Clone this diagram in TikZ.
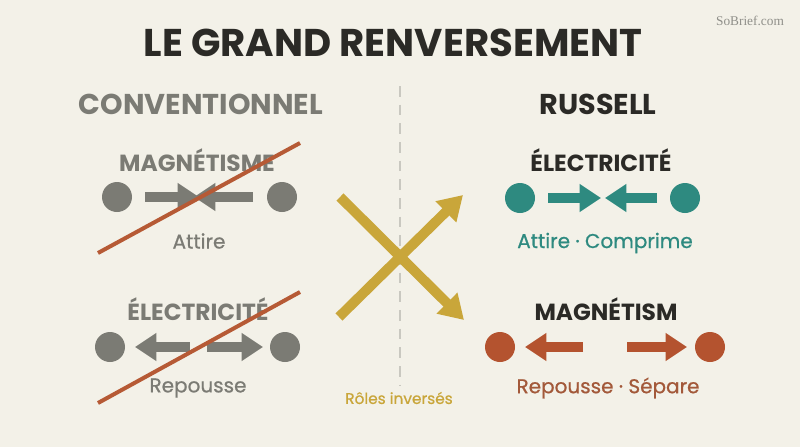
\documentclass[tikz,border=0pt]{standalone}
\usepackage{fontspec}
\setmainfont{Poppins}
\newfontfamily\brandfont{Liberation Serif}
\newfontfamily\effectfont[FakeBold=0.7]{Poppins}
\usetikzlibrary{arrows.meta, positioning}

\definecolor{paper}{HTML}{F3F1E8}
\definecolor{ink}{HTML}{2B2A26}
\definecolor{oldgray}{HTML}{7B7B74}
\definecolor{teal}{HTML}{2E8A80}
\definecolor{rust}{HTML}{B4532F}
\definecolor{rusttext}{HTML}{A3593A}
\definecolor{gold}{HTML}{C9A63A}
\definecolor{strike}{HTML}{B65A35}
\definecolor{divider}{HTML}{C9C8C0}

\begin{document}
\begin{tikzpicture}[x=0.75pt, y=-0.75pt,
    title/.style={font=\bfseries\fontsize{29}{29}\selectfont, text=ink, inner sep=0pt},
    colhead/.style={font=\bfseries\fontsize{21.5}{21.5}\selectfont, text=#1, inner sep=0pt},
    force/.style={font=\bfseries\fontsize{17.5}{17.5}\selectfont, text=#1, inner sep=0pt},
    effect/.style={font=\effectfont\fontsize{15}{15}\selectfont, text=#1, inner sep=0pt},
    dot/.style={circle, fill=#1, minimum size=22.5pt, inner sep=0pt},
    push/.style={draw=#1, line width=7.5pt, -{Triangle[width=20pt, length=16pt]}},
    swap/.style={draw=gold, line width=7.5pt, -{Triangle[width=21pt, length=18pt]}},
    crossout/.style={draw=strike, line width=3pt}]

    \useasboundingbox[fill=paper] (0,0) rectangle (800,447);

    \node[title] (title) at (393,43) {LE GRAND RENVERSEMENT};
    \node[font=\brandfont\fontsize{10}{10}\selectfont, text=oldgray!85, inner sep=0pt] (brand) at (750,21) {SoBrief.com};

    \node[colhead=oldgray] (conv) at (201,104) {CONVENTIONNEL};
    \node[colhead=ink] (russ) at (598,104) {RUSSELL};

    \coordinate (divtop) at (400,86);
    \coordinate (divbot) at (400,385);
    \draw[divider, line width=1.5pt, dash pattern=on 8pt off 6pt] (divtop) -- (divbot);

    % conventionnel
    \node[force=oldgray] (cmag) at (197,160) {MAGNÉTISME};
    \node[dot=oldgray] (cmagL) at (117,197) {};
    \node[dot=oldgray] (cmagR) at (282,197) {};
    \coordinate (cmagA1) at (145,197);
    \coordinate (cmagA2) at (199,197);
    \coordinate (cmagB1) at (253,197);
    \coordinate (cmagB2) at (194,197);
    \draw[push=oldgray] (cmagA1) -- (cmagA2);
    \draw[push=oldgray] (cmagB1) -- (cmagB2);
    \node[effect=oldgray] (cmagfx) at (199,241) {Attire};
    \coordinate (cmagX1) at (98,253);
    \coordinate (cmagX2) at (300,143);
    \draw[crossout] (cmagX1) -- (cmagX2);

    \node[force=oldgray] (celec) at (198,309) {ÉLECTRICITÉ};
    \node[dot=oldgray] (celecL) at (110,347) {};
    \node[dot=oldgray] (celecR) at (285,347) {};
    \coordinate (celecA1) at (190,347);
    \coordinate (celecA2) at (135,347);
    \coordinate (celecB1) at (207,347);
    \coordinate (celecB2) at (263,347);
    \draw[push=oldgray] (celecA1) -- (celecA2);
    \draw[push=oldgray] (celecB1) -- (celecB2);
    \node[effect=oldgray] (celecfx) at (198,388) {Repousse};
    \coordinate (celecX1) at (98,403);
    \coordinate (celecX2) at (300,292);
    \draw[crossout] (celecX1) -- (celecX2);

    % renversement
    \coordinate (swapA1) at (339,317);
    \coordinate (swapA2) at (463,195);
    \coordinate (swapB1) at (340,197);
    \coordinate (swapB2) at (464,320);
    \draw[swap] (swapB1) -- (swapB2);
    \draw[swap] (swapA1) -- (swapA2);
    \node[effect=gold, font=\effectfont\fontsize{11.5}{11.5}\selectfont] (swapfx) at (399,398) {Rôles inversés};

    % russell
    \node[force=ink] (relec) at (601,160) {ÉLECTRICITÉ};
    \node[dot=teal] (relecL) at (520,198) {};
    \node[dot=teal] (relecR) at (685,198) {};
    \coordinate (relecA1) at (548,198);
    \coordinate (relecA2) at (601,198);
    \coordinate (relecB1) at (657,198);
    \coordinate (relecB2) at (605,198);
    \draw[push=teal] (relecA1) -- (relecA2);
    \draw[push=teal] (relecB1) -- (relecB2);
    \node[effect=teal] (relecfx) at (605,243) {Attire · Comprime};

    \node[force=ink] (rmag) at (606,309) {MAGNÉTISM};
    \node[dot=rust] (rmagL) at (500,347) {};
    \node[dot=rust] (rmagR) at (710,347) {};
    \coordinate (rmagA1) at (583,347);
    \coordinate (rmagA2) at (525,347);
    \coordinate (rmagB1) at (627,347);
    \coordinate (rmagB2) at (687,347);
    \draw[push=rust] (rmagA1) -- (rmagA2);
    \draw[push=rust] (rmagB1) -- (rmagB2);
    \node[effect=rusttext] (rmagfx) at (608,388) {Repousse · Sépare};
\end{tikzpicture}
\end{document}
